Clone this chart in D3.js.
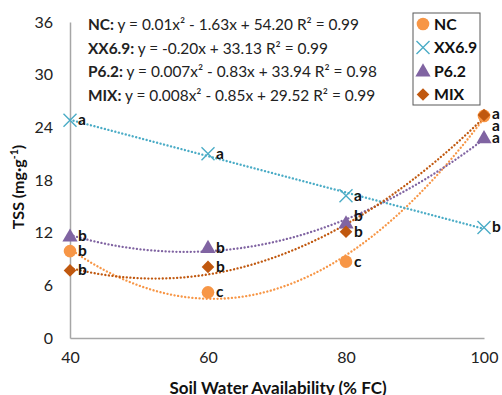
<!DOCTYPE html>
<html>
<head>
<meta charset="utf-8">
<script src="https://cdn.jsdelivr.net/npm/d3@7"></script>
<style>
  body { margin: 0; background: #fff; }
  svg { font-family: Lato, 'Liberation Sans', sans-serif; }
</style>
</head>
<body>
<svg id="chart"></svg>
<script>
const margin = { left: 70, right: 18, top: 22, bottom: 57 };
const w = 502, h = 395;

// data
const waterLevels = [40, 60, 80, 100];
const yTicks = [0, 6, 12, 18, 24, 30, 36];
const seriesNames = ['NC', 'XX6.9', 'P6.2', 'MIX'];
const ncValues = [9.9, 5.2, 8.7, 25.3];
const xxValues = [24.8, 21.0, 16.2, 12.6];
const p62Values = [11.6, 10.3, 13.1, 22.8];
const mixValues = [7.7, 8.1, 12.1, 25.4];
const ncLetters = ['b', 'c', 'c', 'a'];
const xxLetters = ['a', 'a', 'a', 'b'];
const p62Letters = ['b', 'b', 'b', 'a'];
const mixLetters = ['b', 'b', 'b', 'a'];
const equations = [
    ['NC:', ' y = 0.01x\u00b2 - 1.63x + 54.20 R\u00b2 = 0.99'],
    ['XX6.9:', ' y = -0.20x + 33.13 R\u00b2 = 0.99'],
    ['P6.2:', ' y = 0.007x\u00b2 - 0.83x + 33.94 R\u00b2 = 0.98'],
    ['MIX:', ' y = 0.008x\u00b2 - 0.85x + 29.52 R\u00b2 = 0.99']
];

const colors = { 'NC': '#f79646', 'XX6.9': '#4bacc6', 'P6.2': '#8064a2', 'MIX': '#c0580f' };
const series = [
    { name: 'NC', values: ncValues, letters: ncLetters, degree: 2, shape: 'circle' },
    { name: 'XX6.9', values: xxValues, letters: xxLetters, degree: 1, shape: 'x' },
    { name: 'P6.2', values: p62Values, letters: p62Letters, degree: 2, shape: 'triangle' },
    { name: 'MIX', values: mixValues, letters: mixLetters, degree: 2, shape: 'diamond' }
];

const xScale = d3.scaleLinear().domain([40, 100]).range([margin.left, w - margin.right]);
const yScale = d3.scaleLinear().domain([0, 36]).range([h - margin.bottom, margin.top]);

const chart = d3.select('#chart').attr('width', w).attr('height', h);

// axes (lines + labels only, no ticks)
const xAxis = chart.append('g')
    .attr('transform', `translate(0,${h - margin.bottom})`)
    .call(d3.axisBottom(xScale).tickValues(waterLevels).tickSize(0).tickPadding(14));
const yAxis = chart.append('g')
    .attr('transform', `translate(${margin.left},0)`)
    .call(d3.axisLeft(yScale).tickValues(yTicks).tickSize(0).tickPadding(17));
[xAxis, yAxis].forEach(a => {
    a.select('.domain').attr('stroke', '#a6a6a6').attr('stroke-width', 1.5);
    a.selectAll('text').attr('font-size', 16).attr('fill', '#222')
        .attr('font-family', "Lato, 'Liberation Sans', sans-serif");
});

// least squares polynomial fit (Excel-style trendline)
function polyFit(xs, ys, deg) {
    const n = deg + 1;
    const A = [], b = [];
    for (let i = 0; i < n; i++) {
        A.push([]);
        for (let j = 0; j < n; j++) A[i].push(d3.sum(xs, x => Math.pow(x, i + j)));
        b.push(d3.sum(xs, (x, k) => ys[k] * Math.pow(x, i)));
    }
    for (let i = 0; i < n; i++) {
        for (let k = i + 1; k < n; k++) {
            const f = A[k][i] / A[i][i];
            for (let j = i; j < n; j++) A[k][j] -= f * A[i][j];
            b[k] -= f * b[i];
        }
    }
    const c = new Array(n).fill(0);
    for (let i = n - 1; i >= 0; i--) {
        let s = b[i];
        for (let j = i + 1; j < n; j++) s -= A[i][j] * c[j];
        c[i] = s / A[i][i];
    }
    return x => c.reduce((acc, ci, i) => acc + ci * Math.pow(x, i), 0);
}

const line = d3.line().x(d => xScale(d[0])).y(d => yScale(d[1]));
const xsFine = d3.range(40, 100.01, 0.5);

series.forEach(s => {
    const f = polyFit(waterLevels, s.values, s.degree);
    chart.append('path')
        .datum(xsFine.map(x => [x, f(x)]))
        .attr('d', line)
        .attr('fill', 'none')
        .attr('stroke', colors[s.name])
        .attr('stroke-width', 2.3)
        .attr('stroke-linecap', 'round')
        .attr('stroke-dasharray', '0.1 3.5');
});

function drawMarker(g, shape, x, y, color) {
    if (shape === 'circle') {
        g.append('circle').attr('cx', x).attr('cy', y).attr('r', 6.3).attr('fill', color);
    } else if (shape === 'x') {
        const r = 6.5;
        g.append('path')
            .attr('d', `M${x - r},${y - r}L${x + r},${y + r}M${x - r},${y + r}L${x + r},${y - r}`)
            .attr('stroke', color).attr('stroke-width', 1.4).attr('fill', 'none');
    } else if (shape === 'triangle') {
        g.append('path')
            .attr('d', d3.symbol(d3.symbolTriangle, 100)())
            .attr('transform', `translate(${x},${y + 1})`)
            .attr('fill', color);
    } else {
        g.append('path')
            .attr('d', d3.symbol(d3.symbolSquare, 80)())
            .attr('transform', `translate(${x},${y}) rotate(45)`)
            .attr('fill', color);
    }
}

const marks = chart.append('g');
series.forEach(s => {
    s.values.forEach((v, i) => {
        drawMarker(marks, s.shape, xScale(waterLevels[i]), yScale(v), colors[s.name]);
    });
});

// significance letters
series.forEach(s => {
    s.values.forEach((v, i) => {
        let dy = 5;
        if (s.name === 'MIX' && waterLevels[i] === 100) dy = 16;
        if (s.name === 'P6.2' && waterLevels[i] === 80) dy = -2;
        if (s.name === 'NC' && waterLevels[i] === 100) dy = 3;
        marks.append('text')
            .attr('x', xScale(waterLevels[i]) + 8)
            .attr('y', yScale(v) + dy)
            .attr('font-size', 15.5).attr('font-weight', 'bold')
            .attr('fill', '#111')
            .text(s.letters[i]);
    });
});

// equations
const eq = chart.append('g');
equations.forEach((e, i) => {
    const t = eq.append('text')
        .attr('x', 88)
        .attr('y', 30 + i * 23.6)
        .attr('font-size', 15.4)
        .attr('fill', '#222');
    t.append('tspan').attr('font-weight', 'bold').text(e[0]);
    t.append('tspan').text(e[1]);
});

// legend
const legend = chart.append('g');
legend.append('rect')
    .attr('x', 413).attr('y', 13).attr('width', 67).attr('height', 92)
    .attr('fill', '#fff').attr('stroke', '#595959').attr('stroke-width', 1);
series.forEach((s, i) => {
    const y = 24 + i * 23.5;
    drawMarker(legend, s.shape, 423, y, colors[s.name]);
    legend.append('text')
        .attr('x', 434).attr('y', y + 5.5)
        .attr('font-size', 15.8).attr('font-weight', 'bold').attr('fill', '#111')
        .text(s.name);
});

// axis titles
const yTitle = chart.append('text')
    .attr('transform', `translate(24,${(margin.top + h - margin.bottom) / 2 + 7}) rotate(-90)`)
    .attr('text-anchor', 'middle')
    .attr('font-size', 16).attr('font-weight', 'bold').attr('fill', '#111');
yTitle.append('tspan').text('TSS (mg\u00b7g');
yTitle.append('tspan').attr('baseline-shift', 'super').attr('font-size', 10.5).text('-1');
yTitle.append('tspan').text(')');

chart.append('text')
    .attr('x', (margin.left + w - margin.right) / 2 + 1)
    .attr('y', 394)
    .attr('text-anchor', 'middle')
    .attr('font-size', 17).attr('font-weight', 'bold').attr('fill', '#111')
    .text('Soil Water Availability (% FC)');
</script>
</body>
</html>
